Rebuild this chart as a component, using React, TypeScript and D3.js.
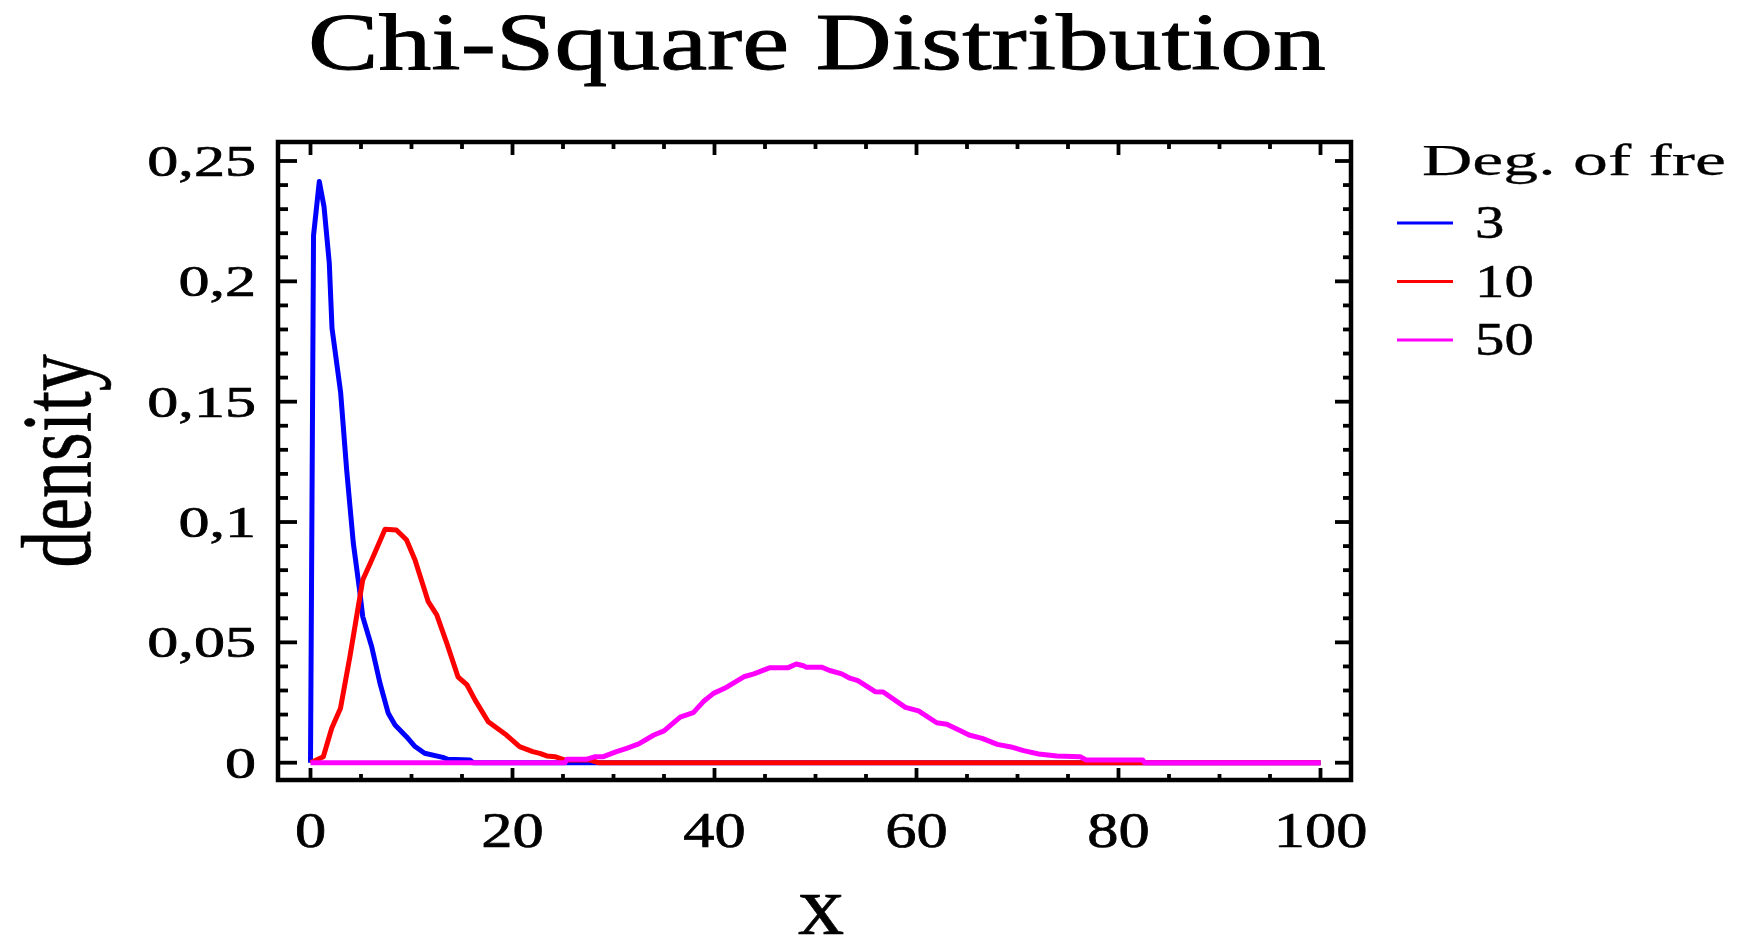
import { useEffect, useRef } from 'react';
import * as d3 from 'd3';

// degrees of freedom shown in the legend
const dfLabels = ['3', '10', '50'];
const colors = ['#0000ff', '#ff0000', '#ff00ff'];

// df = 3
const x3 = [0, 0.3, 0.87, 1.34, 1.86, 2.13, 2.98, 3.58, 4.24, 4.9, 5.17, 6.06, 6.88, 7.7, 8.37, 9.5, 10.35, 11.3, 13.1, 13.6, 15.8, 16.1, 100];
const y3 = [0, 0.219, 0.2415, 0.231, 0.2076, 0.1805, 0.154, 0.1217, 0.0912, 0.0704, 0.0607, 0.0482, 0.033, 0.0205, 0.0157, 0.0108, 0.0067, 0.0039, 0.0022, 0.0014, 0.0011, 0, 0];

// df = 10
const x10 = [0, 1.27, 2.1, 2.97, 3.9, 5.17, 6.06, 7.38, 8.5, 9.5, 10.35, 11.66, 12.5, 13.5, 14.6, 15.5, 16.3, 17.6, 19.4, 20.7, 22, 22.7, 23.4, 24.2, 25.2, 27.7, 28.5, 100];
const y10 = [0, 0.0025, 0.0143, 0.0226, 0.044, 0.0759, 0.0842, 0.097, 0.0967, 0.0926, 0.0842, 0.0669, 0.0614, 0.0496, 0.0357, 0.0323, 0.026, 0.017, 0.0115, 0.0067, 0.0046, 0.0039, 0.0028, 0.0025, 0.0011, 0.0011, 0, 0];

// df = 50
const x50 = [0, 25.2, 25.4, 27.3, 28.2, 29, 30.3, 31.3, 32.5, 34, 35, 36.6, 37.9, 38.9, 39.9, 41, 42.9, 43.9, 45.5, 47.3, 48.1, 48.8, 49.1, 50.6, 51.4, 52.6, 53.4, 54.2, 55.9, 56.7, 58.9, 60.2, 62, 63, 64.2, 65.2, 66.5, 68, 69.5, 70.6, 72.1, 73.9, 76.2, 76.8, 81.1, 82.4, 82.6, 100];
const y50 = [0, 0, 0.0014, 0.0014, 0.0025, 0.0025, 0.0046, 0.006, 0.0078, 0.0115, 0.0132, 0.0189, 0.0208, 0.0254, 0.0288, 0.0309, 0.0357, 0.0369, 0.0395, 0.0395, 0.041, 0.0403, 0.0397, 0.0397, 0.0383, 0.0369, 0.0351, 0.0341, 0.0295, 0.0294, 0.023, 0.0215, 0.0166, 0.016, 0.0136, 0.0115, 0.0101, 0.0076, 0.0064, 0.005, 0.0036, 0.0028, 0.0025, 0.0011, 0.0011, 0.0011, 0, 0];

const xTickLabels = ['0', '20', '40', '60', '80', '100'];
const yTickValues = [0, 0.05, 0.1, 0.15, 0.2, 0.25];
const yTickLabels = ['0', '0,05', '0,1', '0,15', '0,2', '0,25'];

const FONT = '"Liberation Serif", "Times New Roman", serif';

function App() {
  const ref = useRef<SVGSVGElement>(null);

  useEffect(() => {
    const svg = d3.select(ref.current);
    svg.selectAll('*').remove();

    const x = d3.scaleLinear().domain([0, 100]).range([310.5, 1320.5]);
    const y = d3.scaleLinear().domain([0, 0.25]).range([762.7, 161]);
    const frame = { left: 278, right: 1351, top: 142, bottom: 780 };

    // text widened with textLength (the source chart is stretched sideways)
    const txt = (parent: any, t: string, px: number, py: number, size: number, sx: number, anchor: string, weight = 0.4) => {
      const el = parent.append('text')
        .attr('x', px).attr('y', py)
        .attr('text-anchor', anchor)
        .attr('font-family', FONT)
        .attr('font-size', size)
        .attr('fill', '#000')
        .attr('stroke', '#000')
        .attr('stroke-width', weight)
        .text(t);
      const w = (el.node() as SVGTextElement).getComputedTextLength();
      el.attr('textLength', w * sx).attr('lengthAdjust', 'spacingAndGlyphs');
      return el;
    };

    txt(svg, 'Chi-Square Distribution', 817, 69, 80, 1.32, 'middle', 0.9);

    // curves
    const series = [[x3, y3], [x10, y10], [x50, y50]];
    const line = d3.line<[number, number]>().x(d => x(d[0])).y(d => y(d[1]));
    series.forEach(([xs, ys], i) => {
      const pts = xs.map((v, j) => [v, ys[j]] as [number, number]);
      svg.append('path')
        .attr('d', line(pts))
        .attr('fill', 'none')
        .attr('stroke', colors[i])
        .attr('stroke-width', 5)
        .attr('stroke-linejoin', 'round');
    });

    // ticks
    const g = svg.append('g').attr('stroke', '#000').attr('stroke-width', 3.8);
    x.ticks(20).forEach(v => {
      const major = v % 20 === 0;
      g.append('line').attr('x1', x(v)).attr('x2', x(v))
        .attr('y1', frame.bottom).attr('y2', frame.bottom - (major ? 12 : 6));
      g.append('line').attr('x1', x(v)).attr('x2', x(v))
        .attr('y1', frame.top).attr('y2', frame.top + (major ? 13 : 7));
    });
    y.ticks(25).forEach(v => {
      const major = Math.abs(Math.round(v * 100) % 5) === 0;
      g.append('line').attr('y1', y(v)).attr('y2', y(v))
        .attr('x1', frame.left).attr('x2', frame.left + (major ? 19 : 10));
      g.append('line').attr('y1', y(v)).attr('y2', y(v))
        .attr('x1', frame.right).attr('x2', frame.right - (major ? 16 : 8));
    });

    svg.append('rect')
      .attr('x', frame.left).attr('y', frame.top)
      .attr('width', frame.right - frame.left).attr('height', frame.bottom - frame.top)
      .attr('fill', 'none').attr('stroke', '#000').attr('stroke-width', 4.5);

    // tick labels
    xTickLabels.forEach(t => txt(svg, t, x(+t), 847, 50, 1.25, 'middle', 0.7));
    yTickValues.forEach((v, i) => txt(svg, yTickLabels[i], 256, y(v) + 15, 45, 1.38, 'end', 0.7));

    // axis titles
    txt(svg, 'x', 821, 934, 84, 1.1, 'middle', 0.6);
    // rotated title: the sideways stretch of the source acts on glyph height here
    const dg = svg.append('g').attr('transform', 'translate(90,461) scale(1.35,1) rotate(-90)');
    dg.append('text')
      .attr('x', 0).attr('y', 0)
      .attr('text-anchor', 'middle')
      .attr('font-family', FONT)
      .attr('font-size', 74)
      .attr('stroke', '#000').attr('stroke-width', 0.4)
      .text('density');

    // legend
    svg.append('clipPath').attr('id', 'legclip')
      .append('rect').attr('x', 0).attr('y', 0).attr('width', 1727).attr('height', 940);
    const lg = svg.append('g').attr('clip-path', 'url(#legclip)');
    txt(lg, 'Deg. of freedom', 1422, 175, 45, 1.55, 'start', 0.25);
    dfLabels.forEach((d, i) => {
      const ly = 223 + i * 58.5;
      svg.append('line').attr('x1', 1397).attr('x2', 1453).attr('y1', ly).attr('y2', ly)
        .attr('stroke', colors[i]).attr('stroke-width', 3);
      txt(svg, d, 1475, ly + 15, 47, 1.25, 'start', 0.5);
    });
  }, []);

  return (
    <svg ref={ref} width={1748} height={940}
      style={{ position: 'absolute', left: 0, top: 0, background: '#fff' }} />
  );
}

export default App;
